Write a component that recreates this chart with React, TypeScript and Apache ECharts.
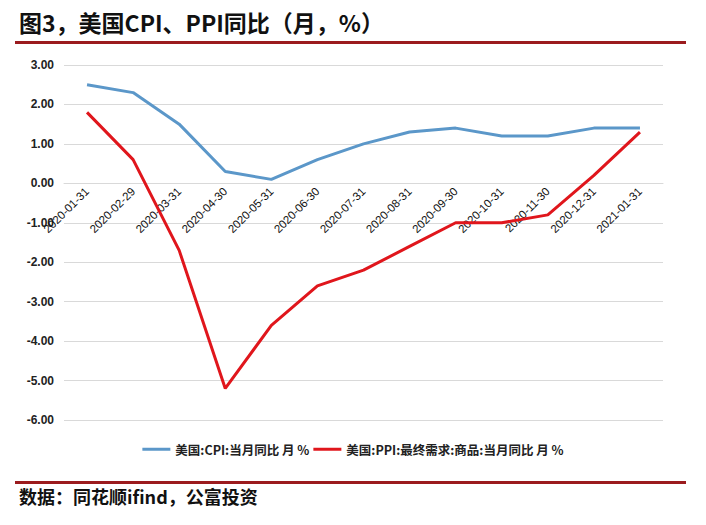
import React, { useEffect, useRef } from "react";
import * as echarts from "echarts";

const categories = [
  "2020-01-31", "2020-02-29", "2020-03-31", "2020-04-30", "2020-05-31",
  "2020-06-30", "2020-07-31", "2020-08-31", "2020-09-30", "2020-10-31",
  "2020-11-30", "2020-12-31", "2021-01-31",
];
const cpiValues = [2.5, 2.3, 1.5, 0.3, 0.1, 0.6, 1.0, 1.3, 1.4, 1.2, 1.2, 1.4, 1.4];
const ppiValues = [1.8, 0.6, -1.7, -5.2, -3.6, -2.6, -2.2, -1.6, -1.0, -1.0, -0.8, 0.2, 1.3];
const yMin = -6;
const yMax = 3;
const cpiName = "美国:CPI:当月同比 月 %";
const ppiName = "美国:PPI:最终需求:商品:当月同比 月 %";
const titleText = "图3，美国CPI、PPI同比（月，%）";
const sourceText = "数据：同花顺ifind，公富投资";

const CJK = "'Noto Sans CJK SC', 'Noto Sans', sans-serif";

export default function App() {
  const ref = useRef<HTMLDivElement>(null);
  useEffect(() => {
    if (!ref.current) return;
    const chart = echarts.init(ref.current, null, { renderer: "svg" });
    const gridTop = 65;
    const gridBottom = 105;
    const plotH = 525 - gridTop - gridBottom;
    const zeroOffset = -(plotH * (0 - yMin)) / (yMax - yMin);
    chart.setOption({
      animation: false,
      backgroundColor: "#ffffff",
      title: {
        text: titleText,
        left: 14,
        top: 5,
        textStyle: { fontFamily: CJK, fontSize: 23, fontWeight: "bold", color: "#111" },
      },
      graphic: [
        { type: "rect", shape: { x: 15, y: 41, width: 671, height: 3 }, style: { fill: "#9b1b1e" } },
        { type: "rect", shape: { x: 15, y: 481, width: 671, height: 3 }, style: { fill: "#9b1b1e" } },
        {
          type: "text",
          left: 19,
          top: 487,
          style: { text: sourceText, fontFamily: CJK, fontSize: 18, fontWeight: "bold", fill: "#111" },
        },
      ],
      legend: {
        top: 438,
        left: "center",
        itemWidth: 28,
        itemHeight: 3,
        itemGap: 4,
        icon: "rect",
        textStyle: { fontFamily: CJK, fontSize: 12.5, fontWeight: "bold", color: "#222" },
        data: [cpiName, ppiName],
      },
      grid: { left: 64, right: 43, top: gridTop, bottom: gridBottom },
      xAxis: {
        type: "category",
        data: categories,
        boundaryGap: true,
        offset: zeroOffset,
        axisLine: { onZero: false, lineStyle: { color: "#d9d9d9" } },
        axisTick: { show: false },
        axisLabel: {
          rotate: 45,
          interval: 0,
          margin: 6,
          fontSize: 11.5,
          color: "#111",
          fontFamily: "'Liberation Sans', 'DejaVu Sans', sans-serif",
        },
      },
      yAxis: {
        type: "value",
        min: yMin,
        max: yMax,
        interval: 1,
        axisLine: { show: false },
        axisTick: { show: false },
        splitLine: { lineStyle: { color: "#d9d9d9" } },
        axisLabel: {
          formatter: (v: number) => v.toFixed(2),
          fontSize: 12,
          fontWeight: "bold",
          color: "#222",
          margin: 10,
          fontFamily: "'Liberation Sans', 'DejaVu Sans', sans-serif",
        },
      },
      series: [
        {
          name: cpiName,
          type: "line",
          data: cpiValues,
          symbol: "none",
          lineStyle: { color: "#5b97c9", width: 3 },
          itemStyle: { color: "#5b97c9" },
        },
        {
          name: ppiName,
          type: "line",
          data: ppiValues,
          symbol: "none",
          lineStyle: { color: "#e0161c", width: 3 },
          itemStyle: { color: "#e0161c" },
        },
      ],
    });
    return () => chart.dispose();
  }, []);
  return (
    <div
      ref={ref}
      style={{ position: "absolute", left: 0, top: 0, width: 706, height: 525 }}
    />
  );
}
